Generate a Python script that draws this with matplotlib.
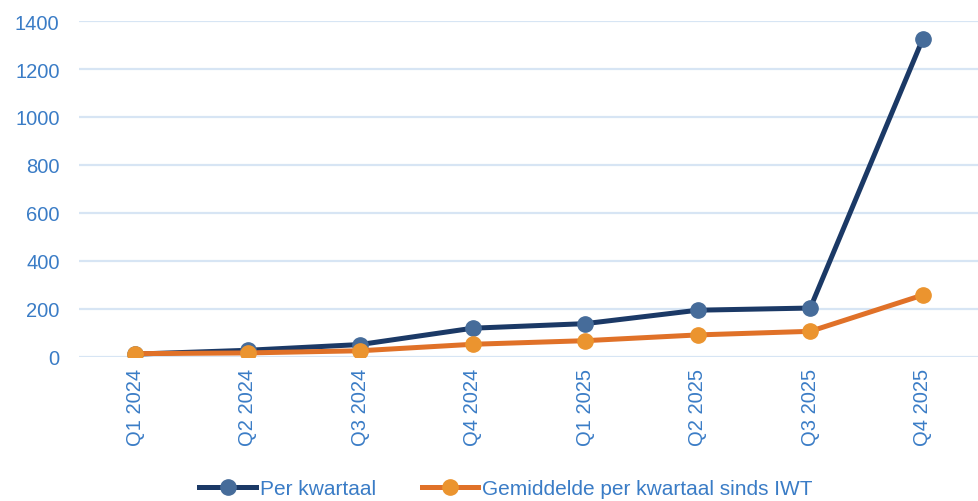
import matplotlib.pyplot as plt

plt.rcParams['font.family'] = ['Liberation Sans', 'DejaVu Sans']

quarters = ['Q1 2024', 'Q2 2024', 'Q3 2024', 'Q4 2024',
            'Q1 2025', 'Q2 2025', 'Q3 2025', 'Q4 2025']
per_kwartaal = [12, 28, 52, 120, 139, 195, 204, 1325]
gemiddelde = [14, 17, 26, 53, 68, 92, 107, 258]

text_col = '#3A7CC6'

fig = plt.figure(figsize=(9.79, 5.02), dpi=100)
ax = fig.add_axes([79 / 979, 144 / 502, 900 / 979, 336 / 502])

x = range(len(quarters))
ax.plot(x, per_kwartaal, color='#1B3966', lw=3.6, marker='o', ms=11,
        mfc='#466C9A', mec='#466C9A', label='Per kwartaal', zorder=3)
ax.plot(x, gemiddelde, color='#E07128', lw=3.6, marker='o', ms=11,
        mfc='#EB942F', mec='#EB942F', label='Gemiddelde per kwartaal sinds IWT', zorder=4)

ax.set_xlim(-0.5, len(quarters) - 0.5)
ax.set_ylim(0, 1400)
ax.set_yticks(range(0, 1401, 200))
ax.set_xticks(list(x))
ax.set_xticklabels(quarters, rotation=90)
ax.tick_params(axis='both', colors=text_col, labelsize=14.5, length=0)
ax.tick_params(axis='y', pad=14)
ax.tick_params(axis='x', pad=8)
ax.grid(axis='y', color='#D7E5F4', lw=1.6)
ax.set_axisbelow(True)
for s in ax.spines.values():
    s.set_visible(False)

leg = fig.legend(loc='center', bbox_to_anchor=(0.517, 12 / 502), ncol=2,
                 frameon=False, fontsize=15, handlelength=2.7, columnspacing=2.2,
                 handletextpad=0.2, borderpad=0)
for t in leg.get_texts():
    t.set_color(text_col)

fig.savefig('out.png', dpi=100)
